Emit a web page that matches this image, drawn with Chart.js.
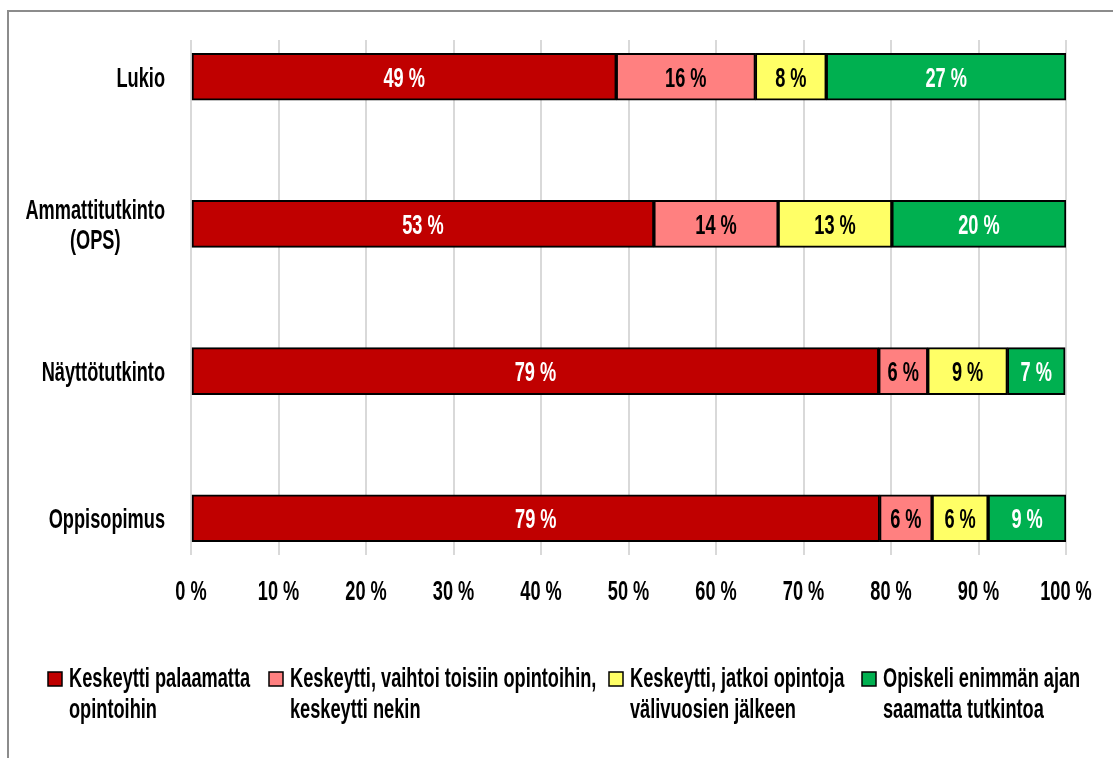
<!DOCTYPE html>
<html>
<head>
<meta charset="utf-8">
<script src="https://cdn.jsdelivr.net/npm/chart.js@4.4.1/dist/chart.umd.min.js"></script>
<style>
  body { margin: 0; background: #fff; }
  #wrap { position: relative; width: 1113px; height: 758px; overflow: hidden; }
  #frame { position: absolute; left: 7px; top: 10px; width: 1200px; height: 900px;
           border-top: 2px solid #8c8c8c; border-left: 2px solid #8c8c8c; }
  canvas { position: absolute; left: 0; top: 0; }
</style>
</head>
<body>
<div id="wrap">
  <div id="frame"></div>
  <canvas id="chartKeskeytys" width="1113" height="758"></canvas>
</div>
<script>
const categories = [
  ['Lukio'],
  ['Ammattitutkinto', '(OPS)'],
  ['Näyttötutkinto'],
  ['Oppisopimus']
];

const seriesNames = [
  ['Keskeytti palaamatta', 'opintoihin'],
  ['Keskeytti, vaihtoi toisiin opintoihin,', 'keskeytti nekin'],
  ['Keskeytti, jatkoi opintoja', 'välivuosien jälkeen'],
  ['Opiskeli enimmän ajan', 'saamatta tutkintoa']
];

const palaamatta = [48.6, 52.9, 78.6, 78.7];
const vaihtoi = [15.9, 14.2, 5.6, 6.0];
const jatkoi = [8.1, 13.0, 9.1, 6.4];
const opiskeli = [27.4, 19.9, 6.6, 8.9];

const xTicks = [0, 10, 20, 30, 40, 50, 60, 70, 80, 90, 100];

const colors = ['#C00000', '#FF8080', '#FFFF66', '#00B050'];
const labelColors = ['#fff', '#000', '#000', '#fff'];
const FONT = 'bold 28px "Liberation Sans", Arial, sans-serif';
const SQUEEZE = 0.65;   // condensed look

const seriesValues = [palaamatta, vaihtoi, jatkoi, opiskeli];

function squeezed(ctx, text, x, y, align) {
  ctx.save();
  ctx.font = FONT;
  ctx.textAlign = align;
  ctx.textBaseline = 'alphabetic';
  ctx.translate(x, y);
  ctx.scale(SQUEEZE, 1);
  ctx.fillText(text, 0, 0);
  ctx.restore();
}

function squeezedWidth(ctx, text) {
  ctx.save();
  ctx.font = FONT;
  const w = ctx.measureText(text).width * SQUEEZE;
  ctx.restore();
  return w;
}

// value labels inside the bars
const barLabels = {
  id: 'barLabels',
  afterDatasetsDraw(chart) {
    const ctx = chart.ctx;
    chart.data.datasets.forEach((ds, di) => {
      chart.getDatasetMeta(di).data.forEach((bar, i) => {
        ctx.fillStyle = labelColors[di];
        squeezed(ctx, Math.round(ds.data[i].x) + ' %', (bar.x + bar.base) / 2, bar.y + 10, 'center');
      });
    });
  }
};

// category labels on the left and x tick labels
const axisLabels = {
  id: 'axisLabels',
  afterDraw(chart) {
    const ctx = chart.ctx;
    const y = chart.scales.y;
    const x = chart.scales.x;
    const right = 165;
    ctx.fillStyle = '#000';
    categories.forEach((lines, i) => {
      const w = Math.max(...lines.map(l => squeezedWidth(ctx, l)));
      const cy = y.getPixelForValue(i);
      const lh = 30;
      const top = cy + 10 - (lines.length - 1) * lh / 2;
      lines.forEach((l, k) => squeezed(ctx, l, right - w / 2, top + k * lh, 'center'));
    });
    xTicks.forEach(v => {
      squeezed(ctx, v + ' %', x.getPixelForValue(v), chart.chartArea.bottom + 45, 'center');
    });
  }
};

// legend below the axis
const legendBelow = {
  id: 'legendBelow',
  afterDraw(chart) {
    const ctx = chart.ctx;
    const boxX = [48, 269, 609, 862];
    seriesNames.forEach((lines, i) => {
      ctx.fillStyle = colors[i];
      ctx.fillRect(boxX[i], 672, 14, 14);
      ctx.lineWidth = 1.5;
      ctx.strokeStyle = '#000';
      ctx.strokeRect(boxX[i], 672, 14, 14);
      ctx.fillStyle = '#000';
      lines.forEach((l, k) => squeezed(ctx, l, boxX[i] + 21, 687 + k * 31, 'left'));
    });
  }
};

const ctxK = document.getElementById('chartKeskeytys').getContext('2d');
new Chart(ctxK, {
  type: 'bar',
  data: {
    datasets: seriesValues.map((vals, di) => ({
      label: seriesNames[di].join(' '),
      data: vals.map((v, i) => ({ x: v, y: i })),
      backgroundColor: colors[di],
      borderColor: '#000',
      borderWidth: 2,
      borderSkipped: false,
      barThickness: 47
    }))
  },
  options: {
    indexAxis: 'y',
    responsive: false,
    animation: false,
    layout: { padding: { left: 191, right: 47, top: 40, bottom: 203 } },
    scales: {
      x: {
        type: 'linear',
        stacked: true,
        min: 0,
        max: 100,
        afterBuildTicks: axis => { axis.ticks = xTicks.map(v => ({ value: v })); },
        grid: { color: '#D9D9D9', lineWidth: 2, drawTicks: false },
        border: { display: false },
        ticks: { display: false }
      },
      y: {
        type: 'linear',
        stacked: true,
        reverse: true,
        offset: false,
        bounds: 'data',
        min: -0.25,
        max: 3.25,
        display: false
      }
    },
    plugins: {
      legend: { display: false },
      tooltip: { enabled: false }
    }
  },
  plugins: [barLabels, axisLabels, legendBelow]
});
</script>
</body>
</html>
